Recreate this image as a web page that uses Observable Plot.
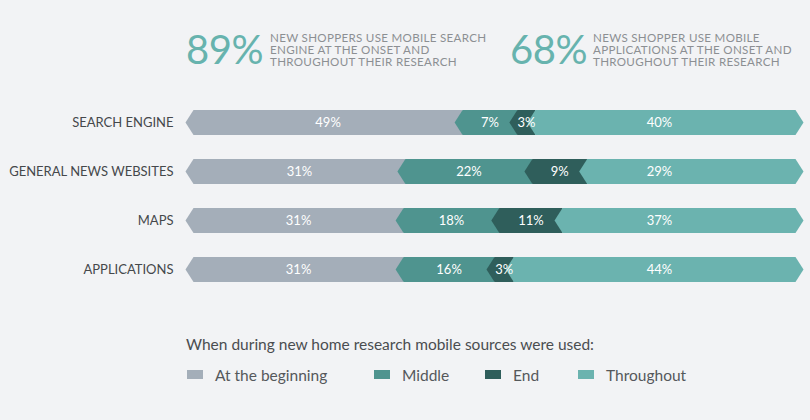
<!DOCTYPE html>
<html>
<head>
<meta charset="utf-8">
<script src="https://cdn.jsdelivr.net/npm/d3@7"></script>
<script src="https://cdn.jsdelivr.net/npm/@observablehq/plot@0.6"></script>
<style>
  html, body { margin: 0; padding: 0; background: #f2f3f5; }
  body { width: 810px; height: 420px; position: relative; overflow: hidden; font-family: Lato, "Open Sans", sans-serif; }
  .big { position: absolute; font-size: 40px; line-height: 48px; color: #67b3ae; letter-spacing: -0.5px; }
  .note { position: absolute; font-size: 11.6px; line-height: 12px; color: #8c8f93; letter-spacing: 0.3px; white-space: nowrap; }
  #chart { position: absolute; left: 0; top: 80px; }
  .ltitle { position: absolute; left: 186px; top: 335px; font-size: 15.5px; color: #4a4d50; }
  .item { position: absolute; top: 366px; font-size: 15.5px; color: #55585b; height: 20px; line-height: 18px; }
  .sw { position: absolute; left: 0; top: 4px; width: 16px; height: 9px; }
  .lt { position: absolute; left: 28px; top: 0; white-space: nowrap; }
</style>
</head>
<body>
<div class="big" style="left:186px; top:25px;">89%</div>
<div class="note" style="left:270px; top:32px;">NEW SHOPPERS USE MOBILE SEARCH<br>ENGINE AT THE ONSET AND<br>THROUGHOUT THEIR RESEARCH</div>
<div class="big" style="left:510px; top:25px;">68%</div>
<div class="note" style="left:593px; top:32px;">NEWS SHOPPER USE MOBILE<br>APPLICATIONS AT THE ONSET AND<br>THROUGHOUT THEIR RESEARCH</div>
<div id="chart"></div>
<div class="ltitle">When during new home research mobile sources were used:</div>
<div id="legend"></div>
<script>
// ---- data ----
const categories = ["SEARCH ENGINE", "GENERAL NEWS WEBSITES", "MAPS", "APPLICATIONS"];
const series = ["At the beginning", "Middle", "End", "Throughout"];
const colors = ["#a4aeb9", "#4f948f", "#2f5e5b", "#6bb3af"];
// drawn segment widths (share of the bar, %)
const beginning = [44.7, 35.2, 34.9, 34.9];
const middle = [9.1, 21.1, 15.9, 15.1];
const end = [3.0, 9.1, 10.5, 3.2];
const throughout = [43.2, 34.6, 38.7, 46.8];
// printed labels
const beginningLabels = ["49%", "31%", "31%", "31%"];
const middleLabels = ["7%", "22%", "18%", "16%"];
const endLabels = ["3%", "9%", "11%", "3%"];
const throughoutLabels = ["40%", "29%", "37%", "44%"];

const values = [beginning, middle, end, throughout];
const labels = [beginningLabels, middleLabels, endLabels, throughoutLabels];

// ---- build shapes ----
const barLeft = 193, barRight = 795;
const pxPerUnit = (barRight - barLeft) / 100;
const tip = 8 / pxPerUnit;       // chevron depth in x units
const half = 12.5 / 49;          // half bar height in row units
const throughoutLabelX = 77.4;

const pts = [];
const texts = [];
categories.forEach((cat, i) => {
  let x0 = 0;
  series.forEach((s, k) => {
    const x1 = x0 + values[k][i];
    const id = i + "-" + k;
    const top = i - half, bot = i + half;
    const poly = [[x0, top], [x1, top]];
    if (k === series.length - 1) poly.push([x1 + tip, i]);
    poly.push([x1, bot], [x0, bot], [x0 - tip, i]);
    poly.forEach(([x, y]) => pts.push({id, series: s, x, y}));
    texts.push({
      x: k === series.length - 1 ? throughoutLabelX : (x0 + x1) / 2,
      y: i,
      t: labels[k][i]
    });
    x0 = x1;
  });
});

const chart = Plot.plot({
  width: 810,
  height: 230,
  marginLeft: barLeft,
  marginRight: 810 - barRight,
  marginTop: 0,
  marginBottom: 0,
  x: {domain: [0, 100], axis: null},
  y: {domain: [0, 3], range: [42, 189], axis: null},
  color: {domain: series, range: colors},
  style: {background: "transparent", fontFamily: "Lato, 'Open Sans', sans-serif", overflow: "visible"},
  marks: [
    Plot.line(pts, {x: "x", y: "y", z: "id", fill: "series", stroke: "none", curve: "linear-closed"}),
    Plot.text(texts, {x: "x", y: "y", text: "t", fill: "white", fontSize: 13, letterSpacing: 0.8}),
    Plot.text(categories, {x: () => 0, y: (d, i) => i, text: d => d, dx: -20, textAnchor: "end", fill: "#45484b", fontSize: 13, letterSpacing: 0.15})
  ]
});
document.getElementById("chart").appendChild(chart);

// ---- legend ----
const legendLefts = [187, 374, 485, 578];
const legend = document.getElementById("legend");
series.forEach((s, k) => {
  const item = document.createElement("div");
  item.className = "item";
  item.style.left = legendLefts[k] + "px";
  const sw = document.createElement("div");
  sw.className = "sw";
  sw.style.background = colors[k];
  const t = document.createElement("div");
  t.className = "lt";
  t.textContent = s;
  item.appendChild(sw);
  item.appendChild(t);
  legend.appendChild(item);
});
</script>
</body>
</html>
